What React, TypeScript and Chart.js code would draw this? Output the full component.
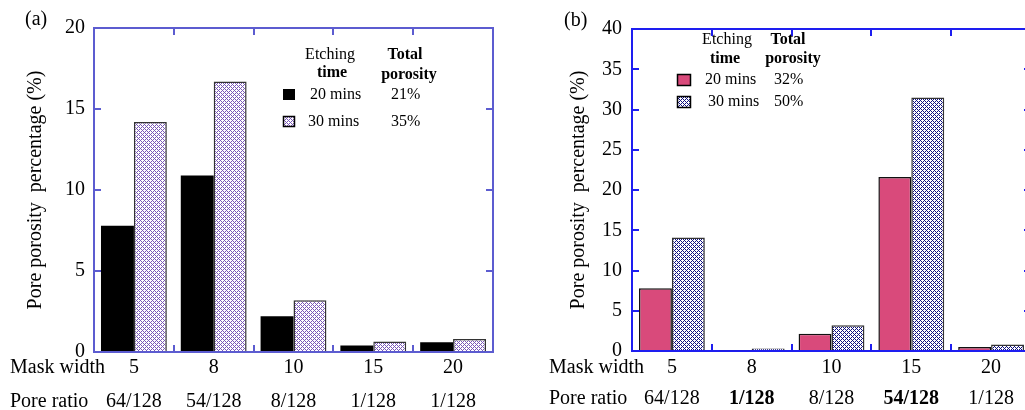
import React, { useEffect, useRef } from "react";
import { Chart, registerables } from "chart.js";
Chart.register(...registerables);

// ---------- data ----------
const maskWidths = ["5", "8", "10", "15", "20"];
const poreRatioA = ["64/128", "54/128", "8/128", "1/128", "1/128"];
const poreRatioB = ["64/128", "1/128", "8/128", "54/128", "1/128"];
const poreRatioBoldA = [false, false, false, false, false];
const poreRatioBoldB = [false, true, false, true, false];
const seriesNames = ["20 mins", "30 mins"];
const a20 = [7.8, 10.9, 2.2, 0.4, 0.6];
const a30 = [14.2, 16.7, 3.2, 0.65, 0.8];
const b20 = [7.8, 0.1, 2.15, 21.6, 0.5];
const b30 = [14.1, 0.3, 3.2, 31.5, 0.8];
const totalA = ["21%", "35%"];
const totalB = ["32%", "50%"];
const yMaxA = 20;
const yMaxB = 40;
const yStep = 5;

const SERIF = '"Liberation Serif", "DejaVu Serif", serif';

function makePattern(color: string) {
  const n = 4;
  const c = document.createElement("canvas");
  c.width = n;
  c.height = n;
  const g = c.getContext("2d")!;
  g.fillStyle = "#ffffff";
  g.fillRect(0, 0, n, n);
  g.fillStyle = color;
  for (let x = 0; x < n; x++) {
    for (let y = 0; y < n; y++) {
      if ((x + y) % n === 0 || (((x - y) % n) + n) % n === 0) g.fillRect(x, y, 1, 1);
    }
  }
  return g.createPattern(c, "repeat")!;
}

type Layout = {
  canvasW: number;
  yWidth: number;
  y2Width: number;
  xHeight: number;
  top: number;
  axisColor: string;
  yLabelPad: number;
  xLabelPad: number;
  titlePad: number;
  panel: string;
  panelX: number;
  panelY: number;
  rowX: number;
  maskY: number;
  ratioY: number;
  legend: {
    etchX: number; etchY: number; timeX: number; timeY: number;
    totalX: number; totalY: number; porX: number; porY: number;
    sqX: number; sqW: number; sqH: number; sqY: number[];
    nameX: number[]; rowY: number[]; pctX: number;
  };
};

function buildChart(
  canvas: HTMLCanvasElement,
  s1: number[],
  s2: number[],
  ratios: string[],
  ratioBold: boolean[],
  totals: string[],
  yMax: number,
  c1: string,
  c1Border: string,
  c1BorderW: number,
  pattern: CanvasPattern,
  L: Layout
) {
  const overlay = {
    id: "overlay",
    afterDraw(chart: any) {
      const ctx: CanvasRenderingContext2D = chart.ctx;
      const xs = chart.scales.x;
      ctx.save();
      ctx.fillStyle = "#000";
      ctx.textBaseline = "middle";
      ctx.font = `20px ${SERIF}`;
      ctx.textAlign = "left";
      ctx.fillText(L.panel, L.panelX, L.panelY);
      ctx.fillText("Mask width", L.rowX, L.maskY);
      ctx.fillText("Pore ratio", L.rowX, L.ratioY);
      ctx.textAlign = "center";
      ratios.forEach((r, i) => {
        ctx.font = `${ratioBold[i] ? "bold " : ""}20px ${SERIF}`;
        ctx.fillText(r, xs.getPixelForTick(i), L.ratioY);
      });
      const lg = L.legend;
      ctx.font = `16px ${SERIF}`;
      ctx.fillText("Etching", lg.etchX, lg.etchY);
      ctx.font = `bold 16px ${SERIF}`;
      ctx.fillText("time", lg.timeX, lg.timeY);
      ctx.fillText("Total", lg.totalX, lg.totalY);
      ctx.fillText("porosity", lg.porX, lg.porY);
      ctx.textAlign = "left";
      ctx.font = `16px ${SERIF}`;
      const ds = chart.data.datasets;
      for (let i = 0; i < 2; i++) {
        const d = ds[i];
        ctx.fillStyle = d.backgroundColor;
        ctx.fillRect(lg.sqX, lg.sqY[i], lg.sqW, lg.sqH);
        if (d.borderWidth > 0 || i === 1) {
          ctx.strokeStyle = "#000";
          ctx.lineWidth = 1.5;
          ctx.strokeRect(lg.sqX + 0.5, lg.sqY[i] + 0.5, lg.sqW - 1, lg.sqH - 1);
        }
        ctx.fillStyle = "#000";
        ctx.fillText(d.label, lg.nameX[i], lg.rowY[i]);
        ctx.fillText(totals[i], lg.pctX, lg.rowY[i]);
      }
      ctx.restore();
    },
  };

  const gridOpts = {
    drawOnChartArea: false,
    drawTicks: true,
    tickLength: -7,
    color: L.axisColor,
    lineWidth: 2,
  };
  const borderOpts = { display: true, color: L.axisColor, width: 2 };

  return new Chart(canvas, {
    type: "bar",
    data: {
      labels: maskWidths,
      datasets: [
        {
          label: seriesNames[0],
          data: s1,
          backgroundColor: c1,
          borderColor: c1Border,
          borderWidth: c1BorderW,
          categoryPercentage: 0.825,
          barPercentage: 1,
        },
        {
          label: seriesNames[1],
          data: s2,
          backgroundColor: pattern as any,
          borderColor: "#333",
          borderWidth: 1.5,
          categoryPercentage: 0.825,
          barPercentage: 1,
        },
      ],
    },
    options: {
      responsive: false,
      animation: false,
      layout: { padding: { top: L.top, left: 0, right: 0, bottom: 0 } },
      plugins: { legend: { display: false }, tooltip: { enabled: false } },
      scales: {
        x: {
          type: "category",
          position: "bottom",
          offset: true,
          grid: { ...gridOpts, offset: true },
          border: borderOpts,
          ticks: {
            color: "#000",
            font: { family: SERIF, size: 20 },
            padding: L.xLabelPad,
            maxRotation: 0,
          },
          afterFit: (s: any) => {
            s.height = L.xHeight;
          },
        },
        x2: {
          type: "category",
          position: "top",
          offset: true,
          grid: { ...gridOpts, offset: true },
          border: borderOpts,
          ticks: { display: false },
          afterFit: (s: any) => {
            s.height = 0;
          },
        },
        y: {
          position: "left",
          min: 0,
          max: yMax,
          grid: gridOpts,
          border: borderOpts,
          ticks: {
            stepSize: yStep,
            color: "#000",
            font: { family: SERIF, size: 20 },
            padding: L.yLabelPad,
          },
          title: {
            display: true,
            text: "Pore porosity  percentage (%)",
            color: "#000",
            font: { family: SERIF, size: 20 },
            padding: { top: L.titlePad, bottom: 0 },
          },
          afterFit: (s: any) => {
            s.width = L.yWidth;
          },
        },
        y2: {
          position: "right",
          min: 0,
          max: yMax,
          grid: gridOpts,
          border: borderOpts,
          ticks: { display: false, stepSize: yStep },
          afterFit: (s: any) => {
            s.width = L.y2Width;
          },
        },
      },
    },
    plugins: [overlay],
  } as any);
}

const layoutA: Layout = {
  canvasW: 512,
  yWidth: 94,
  y2Width: 19,
  xHeight: 58,
  top: 18,
  axisColor: "#5c5cd0",
  yLabelPad: 16,
  xLabelPad: 11,
  titlePad: 24,
  panel: "(a)",
  panelX: 25,
  panelY: 20,
  rowX: 10,
  maskY: 368,
  ratioY: 402,
  legend: {
    etchX: 330, etchY: 55, timeX: 332, timeY: 73,
    totalX: 405, totalY: 55, porX: 409, porY: 75,
    sqX: 283, sqW: 12, sqH: 11, sqY: [89, 116],
    nameX: [310, 308], rowY: [95, 122], pctX: 391,
  },
};

const OFF = 512;
const layoutB: Layout = {
  canvasW: 540,
  yWidth: 632 - OFF,
  y2Width: 540 - (1031 - OFF),
  xHeight: 410 - 351,
  top: 18,
  axisColor: "#1e1ef0",
  yLabelPad: 17,
  xLabelPad: 12,
  titlePad: 55,
  panel: "(b)",
  panelX: 564 - OFF,
  panelY: 21,
  rowX: 549 - OFF,
  maskY: 368,
  ratioY: 399,
  legend: {
    etchX: 727 - OFF, etchY: 40, timeX: 725 - OFF, timeY: 59,
    totalX: 788 - OFF, totalY: 40, porX: 793 - OFF, porY: 59,
    sqX: 677 - OFF, sqW: 14, sqH: 12, sqY: [74, 96],
    nameX: [705 - OFF, 708 - OFF], rowY: [80, 102], pctX: 774 - OFF,
  },
};

export default function App() {
  const refA = useRef<HTMLCanvasElement>(null);
  const refB = useRef<HTMLCanvasElement>(null);

  useEffect(() => {
    const chA = buildChart(
      refA.current!, a20, a30, poreRatioA, poreRatioBoldA, totalA, yMaxA,
      "#000000", "#000000", 0, makePattern("#7a58b8"), layoutA
    );
    const chB = buildChart(
      refB.current!, b20, b30, poreRatioB, poreRatioBoldB, totalB, yMaxB,
      "#d94a7b", "#111111", 1.5, makePattern("#101080"), layoutB
    );
    return () => {
      chA.destroy();
      chB.destroy();
    };
  }, []);

  return (
    <div
      style={{
        position: "fixed",
        left: 0,
        top: 0,
        width: 1025,
        height: 410,
        overflow: "hidden",
        background: "#fff",
      }}
    >
      <canvas
        ref={refA}
        width={layoutA.canvasW}
        height={410}
        style={{ position: "absolute", left: 0, top: 0 }}
      />
      <canvas
        ref={refB}
        width={layoutB.canvasW}
        height={410}
        style={{ position: "absolute", left: OFF, top: 0 }}
      />
    </div>
  );
}
